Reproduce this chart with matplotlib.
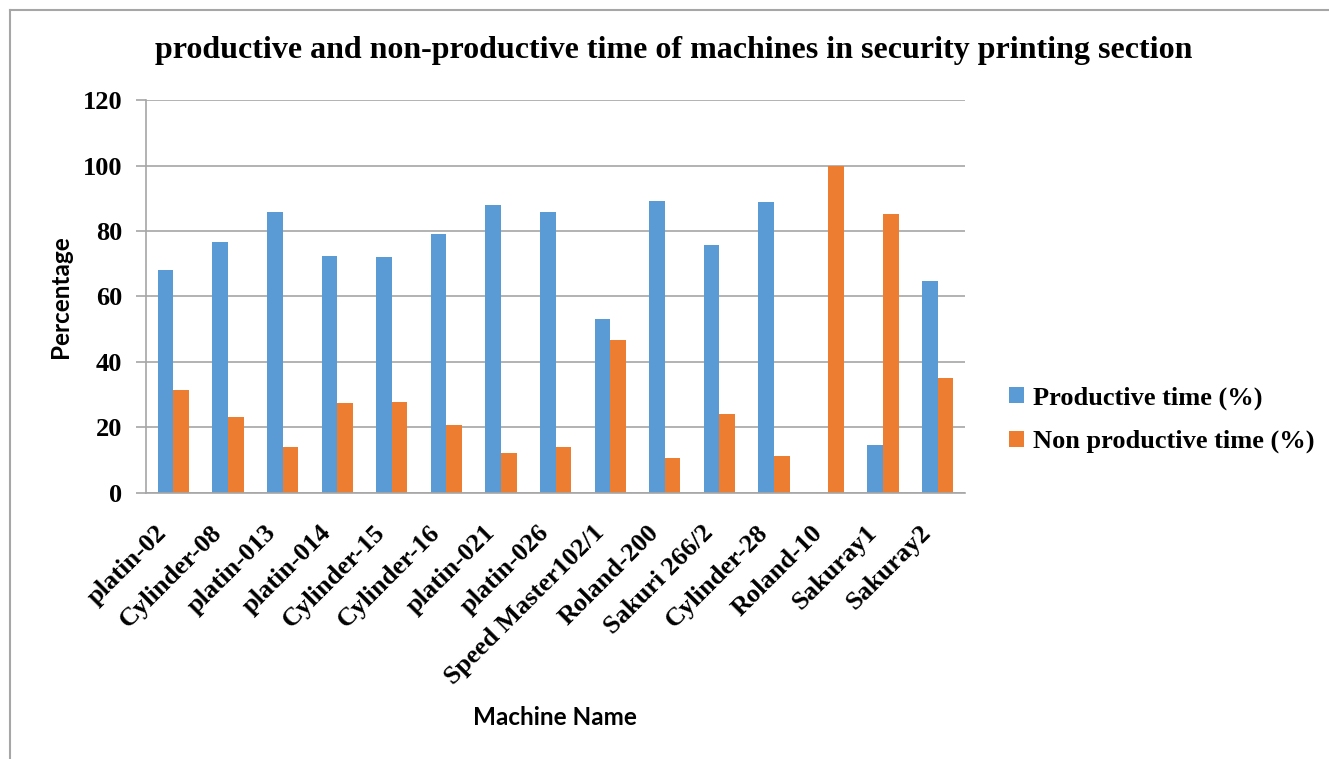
import numpy as np
import matplotlib.pyplot as plt
from matplotlib.lines import Line2D
from matplotlib.transforms import ScaledTranslation

# Machine data
machines = ["platin-02", "Cylinder-08", "platin-013", "platin-014", "Cylinder-15",
            "Cylinder-16", "platin-021", "platin-026", "Speed Master102/1", "Roland-200",
            "Sakuri 266/2", "Cylinder-28", "Roland-10", "Sakuray1", "Sakuray2"]
productive = [68.2, 76.7, 85.8, 72.4, 72.2, 79.1, 87.9, 85.8, 53.1, 89.3,
              75.8, 88.8, 0.0, 14.7, 64.7]
non_productive = [31.5, 23.1, 14.0, 27.3, 27.6, 20.7, 12.0, 13.9, 46.8, 10.6,
                  24.2, 11.1, 100.0, 85.3, 35.2]

blue = "#5B9BD5"
orange = "#ED7D31"
grey = "#A6A6A6"

fig = plt.figure(figsize=(13.29, 7.59), dpi=100)
ax = fig.add_axes([0.1099, 0.3509, 0.6162, 0.5170])

x = np.arange(len(machines))
w = 1 / 3.5
ax.bar(x - w / 2, productive, w, color=blue, label="Productive time (%)")
ax.bar(x + w / 2, non_productive, w, color=orange, label="Non productive time (%)")

ax.set_xlim(-0.5, len(machines) - 0.5)
ax.set_ylim(0, 120)
ax.set_yticks(range(0, 121, 20))
ax.yaxis.grid(True, color=grey, linewidth=1.2)
ax.set_axisbelow(True)

for s in ["top", "right"]:
    ax.spines[s].set_visible(False)
for s in ["left", "bottom"]:
    ax.spines[s].set_color(grey)
    ax.spines[s].set_linewidth(1.2)

ax.tick_params(axis="y", length=7, width=1.2, color=grey, pad=10)
ax.tick_params(axis="x", length=0, pad=6)

ax.set_xticks(x)
ax.set_xticklabels(machines, rotation=45, ha="right", rotation_mode="anchor")
shift = ScaledTranslation(-0.18, -0.2, fig.dpi_scale_trans)
for lab in ax.get_xticklabels():
    lab.set_transform(lab.get_transform() + shift)
for lab in ax.get_xticklabels() + ax.get_yticklabels():
    lab.set_fontfamily("Liberation Serif")
    lab.set_fontweight("bold")
    lab.set_fontsize(19)

ax.set_ylabel("Percentage", fontfamily="Lato", fontweight="bold", fontsize=17.5, labelpad=8)
fig.text(0.4176, 0.0553, "Machine Name", fontfamily="Lato", fontweight="bold",
         fontsize=17.5, ha="center", va="center")

fig.text(0.507, 0.934, "productive and non-productive time of machines in security printing section",
         fontfamily="Liberation Serif", fontweight="bold", fontsize=23,
         ha="center", va="center")

leg = ax.legend(loc="center left", bbox_to_anchor=(1.025, 0.185), frameon=False,
                prop={"family": "Liberation Serif", "weight": "bold", "size": 19},
                handlelength=0.55, handleheight=0.55, handletextpad=0.35,
                labelspacing=0.75)

# outer chart frame
fig.add_artist(Line2D([10 / 1329, 1.0], [1 - 10 / 759, 1 - 10 / 759],
                      transform=fig.transFigure, color=grey, linewidth=1.5))
fig.add_artist(Line2D([10 / 1329, 10 / 1329], [0.0, 1 - 10 / 759],
                      transform=fig.transFigure, color=grey, linewidth=1.5))

fig.savefig("out.png", dpi=100)
